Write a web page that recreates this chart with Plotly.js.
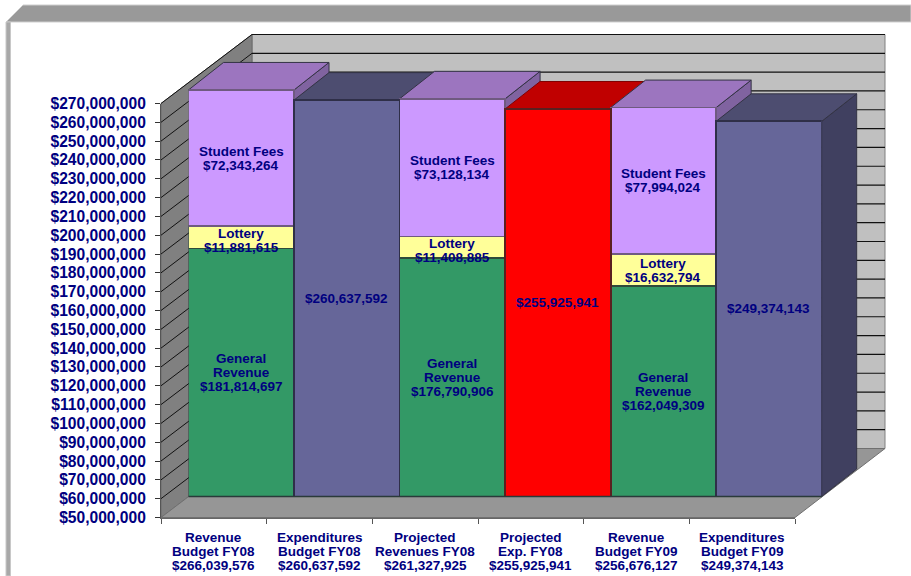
<!DOCTYPE html>
<html>
<head>
<meta charset="utf-8">
<script src="https://cdn.plot.ly/plotly-3.0.1.min.js"></script>
<style>html,body{margin:0;padding:0;background:#fff;overflow:hidden}#chart{width:911px;height:576px}</style>
</head>
<body>
<div id="chart"></div>
<script>
// Budget figures by column
const lineOne = ['Revenue', 'Expenditures', 'Projected', 'Projected', 'Revenue', 'Expenditures'];
const lineTwo = ['Budget FY08', 'Budget FY08', 'Revenues FY08', 'Exp. FY08', 'Budget FY09', 'Budget FY09'];
const totals = [266039576, 260637592, 261327925, 255925941, 256676127, 249374143];
const generalRevenue = [181814697, null, 176790906, null, 162049309, null];
const lottery = [11881615, null, 11408885, null, 16632794, null];
const studentFees = [72343264, null, 73128134, null, 77994024, null];
const expenditures = [null, 260637592, null, null, null, 249374143];
const projectedExp = [null, null, null, 255925941, null, null];
const axisTicks = [50,60,70,80,90,100,110,120,130,140,150,160,170,180,190,200,210,220,230,240,250,260,270].map(m => m * 1e6);

const W = 911, H = 576;
const money = v => '$' + v.toLocaleString('en-US');
const fx = p => p / W, fy = p => 1 - p / H;
const positions = totals.map((_, i) => i);

// Plane of the bars
const barLeft = 188.5, barWidth = 105.53, barFloor = 496.5, barCeil = 82.5;
const [yMin, yMax] = [axisTicks[0], axisTicks[axisTicks.length - 1]];
const barX = i => barLeft + i * barWidth;
const barY = v => barFloor - (v - yMin) * (barFloor - barCeil) / (yMax - yMin);

// Front edge of the box and the back wall behind it
const frontLeft = 161, frontRight = 795, frontFloor = 517.5, frontCeil = 103.5;
const backDx = 91, backDy = 69;
const frontY = v => frontFloor - (v - yMin) * (frontFloor - frontCeil) / (yMax - yMin);
const depthDx = 35, depthDy = 27.5;

const poly = pts => 'M' + pts.map(p => fx(p[0]) + ',' + fy(p[1])).join('L') + 'Z';
const face = (pts, fill, line, width) => ({
  type: 'path', xref: 'paper', yref: 'paper', layer: 'below', path: poly(pts),
  fillcolor: fill, line: {color: line || fill, width: width === undefined ? 1 : width}
});
const seg = (x0, y0, x1, y1, color, width, layer) => ({
  type: 'line', xref: 'paper', yref: 'paper', layer: layer || 'below',
  x0: fx(x0), y0: fy(y0), x1: fx(x1), y1: fy(y1), line: {color, width}
});

const shapes = [];
// Outer frame
shapes.push(face([[6,22],[23,5],[W,5],[W,22]], '#999999', '#cfcfcf', 1));
shapes.push(face([[6,22],[10.5,22],[10.5,H],[6,H]], '#a8a8a8', '#c8c8c8', 1));
// Walls and floor
shapes.push(face([[frontLeft+backDx,frontCeil-backDy],[frontLeft+backDx+633,frontCeil-backDy],[frontLeft+backDx+633,frontFloor-backDy],[frontLeft+backDx,frontFloor-backDy]], '#c0c0c0', '#808080', 1));
shapes.push(face([[frontLeft,frontCeil],[frontLeft+backDx,frontCeil-backDy],[frontLeft+backDx,frontFloor-backDy],[frontLeft,frontFloor]], '#808080', '#6a6a6a', 1));
shapes.push(face([[frontLeft,frontFloor],[frontLeft+backDx,frontFloor-backDy],[frontLeft+backDx+633,frontFloor-backDy],[frontRight,frontFloor]], '#969696', '#707070', 1));
axisTicks.slice(1).forEach(v => {
  const y = frontY(v);
  shapes.push(seg(frontLeft, y, frontLeft + backDx, y - backDy, '#111111', 1));
  shapes.push(seg(frontLeft + backDx, y - backDy, frontLeft + backDx + 633, y - backDy, '#111111', 1.2));
});

// Top and side of each column, painted left to right
const isRevenue = i => generalRevenue[i] !== null;
totals.forEach((t, i) => {
  const y = barY(t), x0 = barX(i), x1 = barX(i + 1);
  const top = isRevenue(i) ? '#9c75bf' : (projectedExp[i] !== null ? '#c00000' : '#4d4d70');
  const side = isRevenue(i) ? '#8063a0' : (projectedExp[i] !== null ? '#a00000' : '#404060');
  const edge = projectedExp[i] !== null ? '#800000' : '#333344';
  shapes.push(face([[x1,y],[x1+depthDx,y-depthDy],[x1+depthDx,barFloor-depthDy],[x1,barFloor]], side, edge, 1));
  shapes.push(face([[x0,y],[x0+depthDx,y-depthDy],[x1+depthDx,y-depthDy],[x1,y]], top, edge, 1));
});
// Foot of the columns where they meet the floor
shapes.push(seg(barX(0), barFloor, barX(6), barFloor, '#2a3a3a', 1.5, 'above'));

const barTrace = (name, y, color, lineColor) => ({
  type: 'bar', name, x: positions, y, xaxis: 'x', yaxis: 'y',
  marker: {color, line: {color: lineColor, width: 1.8}},
  hoverinfo: 'skip', showlegend: false
});
const traces = [
  barTrace('General Revenue', generalRevenue, '#339966', '#25453a'),
  barTrace('Lottery', lottery, '#ffff99', '#2f4a3a'),
  barTrace('Student Fees', studentFees, '#cc99ff', '#6f5a80'),
  barTrace('Expenditures', expenditures, '#666699', '#2f2f48'),
  barTrace('Projected Exp.', projectedExp, '#ff0000', '#5a2020'),
  // Carries the front axes of the box
  {type: 'scatter', mode: 'none', x: positions, y: totals, xaxis: 'x2', yaxis: 'y2', hoverinfo: 'skip', showlegend: false}
];

// Labels inside the columns, one annotation per line
const navy = '#000080';
const labelFont = {family: 'Liberation Sans, Arial, sans-serif', size: 13.5, color: navy, weight: 700};
const annotations = [];
const stacked = (lines, i, mid, nudge) => {
  lines.forEach((text, k) => annotations.push({
    text, xref: 'x', yref: 'y', x: i, y: mid, showarrow: false, xanchor: 'center', yanchor: 'middle',
    yshift: ((lines.length - 1) / 2 - k) * 14 + nudge, font: labelFont, captureevents: false
  }));
};
positions.forEach(i => {
  if (isRevenue(i)) {
    const g = generalRevenue[i], l = lottery[i], s = studentFees[i];
    stacked(['General', 'Revenue', money(g)], i, yMin + (g - yMin) / 2, 0);
    stacked(['Lottery', money(l)], i, g + l / 2, i === 4 ? -1 : -3);
    stacked(['Student Fees', money(s)], i, g + l + s / 2, 0);
  } else {
    stacked([money(totals[i])], i, yMin + (totals[i] - yMin) / 2, 0);
  }
  [lineOne[i], lineTwo[i], money(totals[i])].forEach((text, k) => annotations.push({
    text, xref: 'x2', yref: 'paper', x: i, y: fy(537 + k * 14), showarrow: false,
    xanchor: 'center', yanchor: 'middle', font: labelFont, captureevents: false
  }));
});

const layout = {
  width: W, height: H, margin: {l: 0, r: 0, t: 0, b: 0, pad: 0},
  paper_bgcolor: '#ffffff', plot_bgcolor: 'rgba(0,0,0,0)',
  barmode: 'stack', bargap: 0, showlegend: false, shapes, annotations,
  xaxis: {domain: [fx(barLeft), fx(barX(6))], range: [-0.5, 5.5], visible: false, fixedrange: true},
  yaxis: {domain: [fy(barFloor), fy(barCeil)], range: [yMin, yMax], visible: false, fixedrange: true},
  xaxis2: {
    domain: [fx(frontLeft), fx(frontRight)], range: [-0.5, 5.5], anchor: 'y2',
    tickmode: 'array', tickvals: [-0.5, 0.5, 1.5, 2.5, 3.5, 4.5, 5.5], showticklabels: false,
    ticks: 'outside', ticklen: 5, tickcolor: '#555555', tickwidth: 1,
    showline: true, linecolor: '#666666', linewidth: 1.5, showgrid: false, zeroline: false, fixedrange: true
  },
  yaxis2: {
    domain: [fy(frontFloor), fy(frontCeil)], range: [yMin, yMax], anchor: 'x2',
    tickmode: 'array', tickvals: axisTicks, ticktext: axisTicks.map(money),
    ticks: 'outside', ticklen: 5, tickcolor: '#333333', tickwidth: 1, ticklabelstandoff: 6,
    tickfont: {family: 'Liberation Sans, Arial, sans-serif', size: 15.6, color: navy, weight: 700},
    showline: true, linecolor: '#555555', linewidth: 1, showgrid: false, zeroline: false, fixedrange: true
  }
};
Plotly.newPlot('chart', traces, layout, {staticPlot: true, displayModeBar: false});
</script>
</body>
</html>
